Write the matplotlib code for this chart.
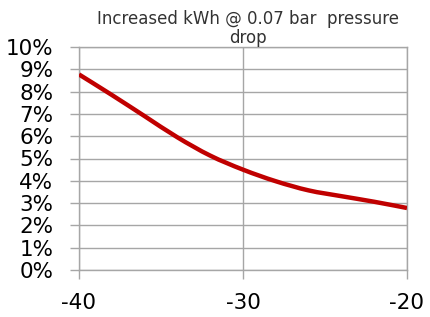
import matplotlib
matplotlib.use('Agg')
import matplotlib.pyplot as plt
from matplotlib.path import Path
from matplotlib.patches import PathPatch
from matplotlib.ticker import FuncFormatter

# temperature vs. increased kWh (%)
temps = [-40, -38, -36, -34, -32, -30, -28, -26, -24, -22, -20]
increase_pct = [8.77, 7.85, 6.9, 5.95, 5.13, 4.5, 3.98, 3.57, 3.31, 3.06, 2.78]

x_ticks = [-40, -30, -20]
y_ticks = list(range(0, 11))


def smooth_path(xs, ys):
    # Excel-like smoothed line: cubic bezier segments through every point
    verts = [(xs[0], ys[0])]
    codes = [Path.MOVETO]
    n = len(xs)
    for i in range(n - 1):
        x0, y0 = xs[max(i - 1, 0)], ys[max(i - 1, 0)]
        x1, y1 = xs[i], ys[i]
        x2, y2 = xs[i + 1], ys[i + 1]
        x3, y3 = xs[min(i + 2, n - 1)], ys[min(i + 2, n - 1)]
        c1 = (x1 + (x2 - x0) / 6, y1 + (y2 - y0) / 6)
        c2 = (x2 - (x3 - x1) / 6, y2 - (y3 - y1) / 6)
        verts += [c1, c2, (x2, y2)]
        codes += [Path.CURVE4] * 3
    return Path(verts, codes)


fig = plt.figure(figsize=(4.3, 3.17), dpi=100, facecolor='white')
ax = fig.add_axes([79 / 430, 1 - 270 / 317, 328 / 430, 223 / 317])

ax.add_patch(PathPatch(smooth_path(temps, increase_pct), facecolor='none',
                       edgecolor='#C00000', lw=3.2, capstyle='butt', zorder=3))

ax.set_xlim(-40, -20)
ax.set_ylim(0, 10)
ax.set_xticks(x_ticks)
ax.set_yticks(y_ticks)
ax.xaxis.set_major_formatter(FuncFormatter(lambda v, p: f"{int(v)}"))
ax.yaxis.set_major_formatter(FuncFormatter(lambda v, p: f"{int(v)}%"))

ax.grid(True, color='#A6A6A6', lw=1)
ax.set_axisbelow(True)
for s in ax.spines.values():
    s.set_color('#A6A6A6')
    s.set_linewidth(1)
ax.tick_params(axis='both', colors='#A6A6A6', length=6.5, width=1, labelcolor='black',
               labelsize=15.5)
ax.tick_params(axis='x', pad=10)
ax.tick_params(axis='y', pad=12)

ax.set_title("Increased kWh @ 0.07 bar  pressure\ndrop", fontsize=12,
             color='#333333', linespacing=1.05, pad=1, x=0.515)

fig.savefig('out.png', dpi=100, facecolor='white')
